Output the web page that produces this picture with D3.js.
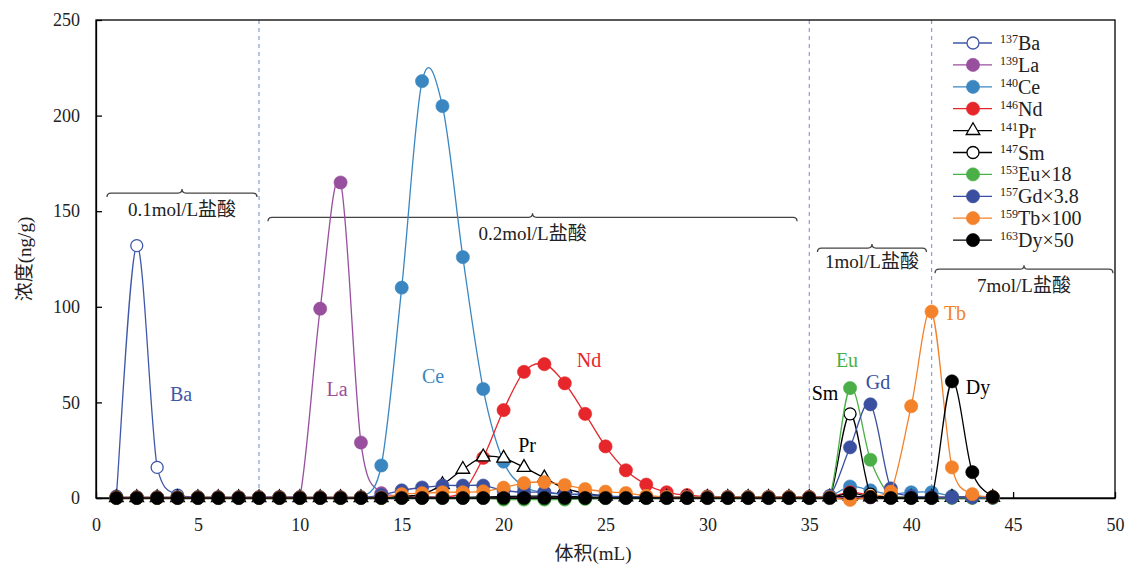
<!DOCTYPE html>
<html>
<head>
<meta charset="utf-8">
<script src="https://cdn.jsdelivr.net/npm/d3@7"></script>
<style>
  body { margin: 0; background: #fff; }
</style>
</head>
<body>
<div id="chart"></div>
<script>
const margin = {top: 20, right: 14, bottom: 68, left: 96},
      width = 1129 - margin.left - margin.right,
      height = 566 - margin.top - margin.bottom;

const serif = '"Liberation Serif", "DejaVu Serif", "Noto Sans CJK SC", serif';

// elution volume (mL)
const volume = [1, 2, 3, 4, 5, 6, 7, 8, 9, 10, 11, 12, 13, 14, 15, 16, 17, 18, 19, 20, 21, 22,
                23, 24, 25, 26, 27, 28, 29, 30, 31, 32, 33, 34, 35, 36, 37, 38, 39, 40, 41, 42, 43, 44];

const ba = [1, 132, 16, 1.5, 0.5, 0.3, 0.2, 0.2, 0.3, 0.2, 0.2, 0.2, 0.2, 0.3, 0.3, 0.3, 0.3, 0.3, 0.3, 0.3, 0.3, 0.3,
            0.3, 0.2, 0.2, 0.2, 0.2, 0.2, 0.2, 0.2, 0.2, 0.2, 0.2, 0.2, 0.2, 0.3, 0.5, 0.3, 0.2, 0.2, 0.2, 0.2, 0.2, 0.2];
const la = [0.2, 0.2, 0.2, 0.2, 0.2, 0.2, 0.2, 0.3, 0.5, 0.3, 99, 165, 29, 2.5, 1, 0.8, 0.5, 0.4, 0.3, 0.3, 0.3, 0.3,
            0.3, 0.3, 0.3, 0.3, 0.3, 0.3, 0.3, 0.3, 0.3, 0.3, 0.3, 0.3, 0.3, 0.3, 0.5, 0.3, 0.3, 0.3, 0.3, 0.3, 0.3, 0.3];
const ce = [0.3, 0.3, 0.3, 0.3, 0.3, 0.3, 0.3, 0.3, 0.3, 0.3, 0.3, 0.3, 0.3, 17, 110, 218, 205, 126, 57, 19, 6, 3,
            2, 1.5, 1, 0.8, 0.5, 0.4, 0.4, 0.4, 0.4, 0.4, 0.4, 0.4, 0.4, 1, 6, 4, 2, 3, 3, 1, 0.5, 0.3];
const nd = [0.3, 0.3, 0.3, 0.3, 0.3, 0.3, 0.3, 0.3, 0.3, 0.3, 0.3, 0.3, 0.3, 0.3, 0.3, 0.3, 0.5, 3, 21, 46, 66, 70,
            60, 44, 27, 14.5, 7, 3, 1.5, 0.8, 0.4, 0.4, 0.4, 0.4, 0.4, 0.5, 3, 1.5, 0.5, 0.3, 0.3, 0.3, 0.3, 0.3];
const pr = [0.2, 0.2, 0.2, 0.2, 0.2, 0.2, 0.2, 0.2, 0.2, 0.2, 0.2, 0.2, 0.2, 0.2, 0.8, 2, 7, 15, 21.5, 20.8, 16, 10.5,
            5, 2.5, 1, 0.5, 0.3, 0.3, 0.3, 0.3, 0.3, 0.3, 0.3, 0.3, 0.3, 0.5, 1, 0.5, 0.3, 0.3, 0.3, 0.3, 0.3, 0.3];
const sm = [0.2, 0.2, 0.2, 0.2, 0.2, 0.2, 0.2, 0.2, 0.2, 0.2, 0.2, 0.2, 0.2, 0.2, 0.2, 0.2, 0.2, 0.2, 0.5, 0.8, 1, 1,
            0.8, 0.5, 0.3, 0.2, 0.2, 0.2, 0.2, 0.2, 0.2, 0.2, 0.2, 0.2, 0.2, 0.3, 44, 2, 0.3, 0.2, 0.2, 0.2, 0.2, 0.2];
const eu = [0.1, 0.1, 0.1, 0.1, 0.1, 0.1, 0.1, 0.1, 0.1, 0.1, 0.1, 0.1, 0.1, 0.1, 0.1, 0.1, 0.1, 0.1, 0.1, -0.8, -0.8, -0.8,
            -0.8, -0.5, 0, 0.1, 0.1, 0.1, 0.1, 0.1, 0.1, 0.1, 0.1, 0.1, 0.1, 0.5, 57.5, 20, 1, 0.2, 0.1, 0.1, 0.1, 0.1];
const gd = [0.3, 0.3, 0.3, 0.3, 0.3, 0.3, 0.3, 0.3, 0.3, 0.3, 0.3, 0.3, 0.3, 1.5, 4, 5.5, 6.5, 6.5, 6.5, 4, 3, 3,
            2, 2, 1, 0.5, 0.5, 0.5, 0.5, 0.5, 0.5, 0.5, 0.5, 0.5, 0.5, 1, 26.5, 49, 5, 1, 0.5, 0.3, 0.3, 0.2];
const tb = [0.2, 0.2, 0.2, 0.2, 0.2, 0.2, 0.2, 0.2, 0.2, 0.2, 0.2, 0.2, 0.2, 0.2, 2, 2.5, 3, 3, 3.5, 5.4, 7.8, 8.3,
            6.8, 4.7, 3.3, 2.6, 1.2, 0.6, 0.4, 0.4, 0.4, 0.4, 0.4, 0.4, 0.4, 0.4, -1, 0.8, 3.3, 48, 97.5, 16, 2, 0.5];
const dy = [0, 0, 0, 0, 0, 0, 0, 0, 0, 0, 0, 0, 0, 0, 0, 0, 0, 0, 0, 0, 0, 0,
            0, 0, 0, 0, 0, 0, 0, 0, 0, 0, 0, 0, 0, 0, 2.5, 0.5, 0, 0, 0, 61, 13.5, 0.5];

const xTicks = [0, 5, 10, 15, 20, 25, 30, 35, 40, 45, 50];
const yTicks = [0, 50, 100, 150, 200, 250];

// dashed separators between acid steps (mL)
const steps = [8, 35, 41];

const series = [
  {mass: '137', name: 'Ba', suffix: '',      values: ba, color: '#3f58a8', marker: 'open',     label: [4.17, 54.4]},
  {mass: '139', name: 'La', suffix: '',      values: la, color: '#984f9e', marker: 'filled',   label: [11.83, 57]},
  {mass: '140', name: 'Ce', suffix: '',      values: ce, color: '#3a86c0', marker: 'filled',   label: [16.54, 63.8]},
  {mass: '146', name: 'Nd', suffix: '',      values: nd, color: '#e6262b', marker: 'filled',   label: [24.19, 72.2]},
  {mass: '141', name: 'Pr', suffix: '',      values: pr, color: '#000000', marker: 'triangle', label: [21.15, 27.7]},
  {mass: '147', name: 'Sm', suffix: '',      values: sm, color: '#000000', marker: 'open',     label: [35.77, 54.9]},
  {mass: '153', name: 'Eu', suffix: '×18',   values: eu, color: '#4baf48', marker: 'filled',   label: [36.85, 72.2]},
  {mass: '157', name: 'Gd', suffix: '×3.8',  values: gd, color: '#3b4fa0', marker: 'filled',   label: [38.37, 60.7]},
  {mass: '159', name: 'Tb', suffix: '×100',  values: tb, color: '#f4822a', marker: 'filled',   label: [42.15, 96.8]},
  {mass: '163', name: 'Dy', suffix: '×50',   values: dy, color: '#000000', marker: 'filled',   label: [43.28, 58]}
];

// braces over the acid steps: x range and height in data units
const acids = [
  {text: '0.1mol/L盐酸', x0: 0.54, x1: 7.9,  y: 159.5, ty: 151},
  {text: '0.2mol/L盐酸', x0: 8.44, x1: 34.4, y: 146.8, ty: 138.6},
  {text: '1mol/L盐酸',   x0: 35.4, x1: 40.75, y: 130.7, ty: 123.6},
  {text: '7mol/L盐酸',   x0: 41.17, x1: 49.9, y: 119.7, ty: 111.4}
];

const svg = d3.select('#chart').append('svg')
    .attr('width', width + margin.left + margin.right)
    .attr('height', height + margin.top + margin.bottom)
    .attr('font-family', serif);

const g = svg.append('g')
    .attr('transform', `translate(${margin.left}, ${margin.top})`);

const x = d3.scaleLinear().domain([0, 50]).range([0, width]);
const y = d3.scaleLinear().domain([0, 250]).range([height, 0]);

// step separators
g.append('g')
  .selectAll('line')
  .data(steps)
  .enter().append('line')
    .attr('x1', d => x(d)).attr('x2', d => x(d))
    .attr('y1', 0).attr('y2', height)
    .attr('stroke', '#8c9bd6')
    .attr('stroke-width', 1.2)
    .attr('stroke-dasharray', '4,4');

// axes with inward ticks
const xAxis = g.append('g')
    .attr('transform', `translate(0,${height})`)
    .call(d3.axisBottom(x).tickValues(xTicks).tickSize(-6).tickPadding(20).tickSizeOuter(0));
const yAxis = g.append('g')
    .call(d3.axisLeft(y).tickValues(yTicks).tickSize(-6).tickPadding(16).tickSizeOuter(0));

[xAxis, yAxis].forEach(a => {
  a.attr('font-family', serif).attr('font-size', 18);
  a.selectAll('text').attr('fill', '#222');
  a.selectAll('line, path').attr('stroke', '#000').attr('stroke-width', 1.3);
});

// frame
g.append('rect')
    .attr('width', width)
    .attr('height', height)
    .attr('fill', 'none')
    .attr('stroke', '#000')
    .attr('stroke-width', 1.3);

// braces
const brace = (x0, x1, yy) => {
  const xm = (x0 + x1) / 2, r = 4;
  return `M${x0},${yy + r}Q${x0},${yy} ${x0 + r},${yy}L${xm - r},${yy}Q${xm},${yy} ${xm},${yy - r}` +
         `Q${xm},${yy} ${xm + r},${yy}L${x1 - r},${yy}Q${x1},${yy} ${x1},${yy + r}`;
};

const acid = g.append('g').selectAll('g')
  .data(acids)
  .enter().append('g');
acid.append('path')
    .attr('d', d => brace(x(d.x0), x(d.x1), y(d.y)))
    .attr('fill', 'none')
    .attr('stroke', '#444')
    .attr('stroke-width', 1.3);
acid.append('text')
    .attr('x', d => x((d.x0 + d.x1) / 2))
    .attr('y', d => y(d.ty))
    .attr('dy', '0.35em')
    .attr('text-anchor', 'middle')
    .attr('font-size', 19)
    .attr('fill', '#222')
    .text(d => d.text);

// Excel-like smoothing: Catmull-Rom beziers, control points kept from dipping below the segment
const smoothCurve = context => {
  let pts;
  return {
    areaStart() {}, areaEnd() {},
    lineStart() { pts = []; },
    point(px, py) { pts.push([+px, +py]); },
    lineEnd() {
      const n = pts.length;
      context.moveTo(pts[0][0], pts[0][1]);
      for (let i = 0; i < n - 1; i++) {
        const p0 = pts[Math.max(i - 1, 0)], p1 = pts[i], p2 = pts[i + 1], p3 = pts[Math.min(i + 2, n - 1)];
        const low = Math.max(p1[1], p2[1]);
        const c1x = p1[0] + (p2[0] - p0[0]) / 6,
              c1y = Math.min(p1[1] + (p2[1] - p0[1]) / 6, low),
              c2x = p2[0] - (p3[0] - p1[0]) / 6,
              c2y = Math.min(p2[1] - (p3[1] - p1[1]) / 6, low);
        context.bezierCurveTo(c1x, c1y, c2x, c2y, p2[0], p2[1]);
      }
    }
  };
};

// series: smooth line then markers
const line = d3.line()
    .x((d, i) => x(volume[i]))
    .y(d => y(d))
    .curve(smoothCurve);

const triangle = d3.symbol().type(d3.symbolTriangle).size(80);

const drawMarker = (sel, s) => {
  if (s.marker === 'triangle') {
    sel.append('path')
        .attr('d', triangle)
        .attr('fill', '#fff')
        .attr('stroke', s.color)
        .attr('stroke-width', 1.3);
  } else {
    sel.append('circle')
        .attr('r', s.marker === 'open' ? 6 : 6.6)
        .attr('fill', s.marker === 'open' ? '#fff' : s.color)
        .attr('stroke', s.color)
        .attr('stroke-width', s.marker === 'open' ? 1.3 : 0.6);
  }
};

series.forEach(s => {
  const sg = g.append('g').attr('class', 'series');
  sg.append('path')
      .attr('d', line(s.values))
      .attr('fill', 'none')
      .attr('stroke', s.color)
      .attr('stroke-width', 1.3);
  sg.selectAll('g.pt')
    .data(s.values)
    .enter().append('g')
      .attr('class', 'pt')
      .attr('transform', (d, i) => `translate(${x(volume[i])},${y(d)})`)
      .each(function() { drawMarker(d3.select(this), s); });
});

// element labels next to peaks
g.append('g').selectAll('text')
  .data(series)
  .enter().append('text')
    .attr('x', d => x(d.label[0]))
    .attr('y', d => y(d.label[1]))
    .attr('dy', '0.35em')
    .attr('text-anchor', 'middle')
    .attr('font-size', 20)
    .attr('fill', d => d.color)
    .text(d => d.name);

// legend
const legend = svg.append('g')
    .attr('transform', 'translate(953,43)');
const item = legend.selectAll('g')
  .data(series)
  .enter().append('g')
    .attr('transform', (d, i) => `translate(0,${i * 21.9})`);
item.append('line')
    .attr('x2', 39)
    .attr('stroke', d => d.color)
    .attr('stroke-width', 1.3);
item.append('g')
    .attr('transform', 'translate(20,0)')
    .each(function(d) { drawMarker(d3.select(this), d); });
const lt = item.append('text')
    .attr('x', 47)
    .attr('y', 7)
    .attr('font-size', 20)
    .attr('fill', '#222');
lt.append('tspan')
    .attr('font-size', 12)
    .attr('dy', -7)
    .text(d => d.mass);
lt.append('tspan')
    .attr('dy', 7)
    .text(d => d.name + d.suffix);

// axis titles
svg.append('text')
    .attr('transform', `translate(24,${margin.top + height / 2}) rotate(-90)`)
    .attr('text-anchor', 'middle')
    .attr('dy', '0.35em')
    .attr('font-size', 19)
    .attr('fill', '#222')
    .text('浓度(ng/g)');
svg.append('text')
    .attr('x', 593)
    .attr('y', 553)
    .attr('dy', '0.35em')
    .attr('text-anchor', 'middle')
    .attr('font-size', 19)
    .attr('fill', '#222')
    .text('体积(mL)');
</script>
</body>
</html>
